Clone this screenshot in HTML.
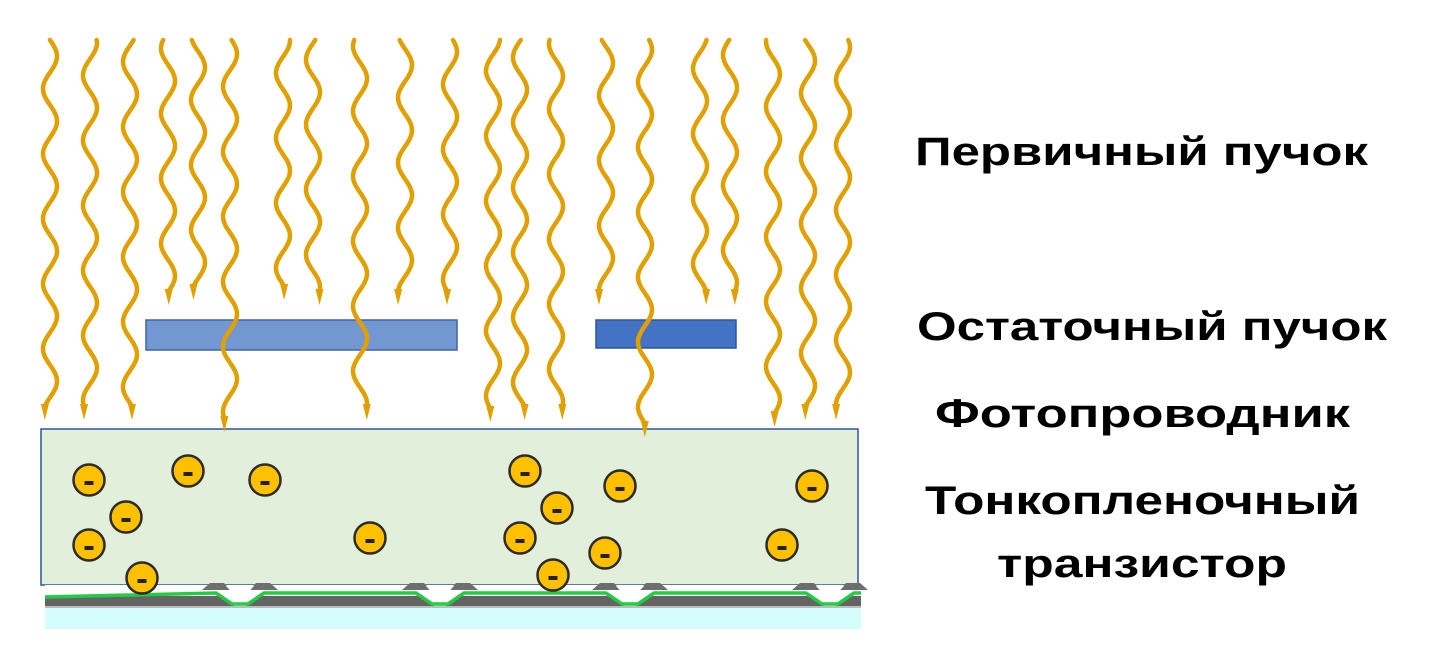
<!DOCTYPE html>
<html><head><meta charset="utf-8"><style>
html,body{margin:0;padding:0;background:#fff;width:1436px;height:658px;overflow:hidden}
svg{display:block}
text{font-family:"Liberation Sans","DejaVu Sans",sans-serif;font-weight:bold;font-size:40px;fill:#000}
</style></head><body>
<svg id="s" width="1436" height="658" viewBox="0 0 1436 658">
<rect x="146" y="320" width="311" height="30" fill="#7397d0" stroke="#3f64a8" stroke-width="1.5"/>
<rect x="596" y="320" width="140" height="28" fill="#4472c4" stroke="#2f5597" stroke-width="1.5"/>
<rect x="41" y="429" width="817" height="156" fill="#e2efda" stroke="#2f5597" stroke-width="1.5"/>
<rect x="45" y="608" width="816" height="21" fill="#d5fdfd"/>
<g id="tft"></g>
<g id="waves"></g>
<g id="el"></g>
<text x="915" y="165" textLength="453" lengthAdjust="spacingAndGlyphs">Первичный пучок</text>
<text x="917" y="340" textLength="470" lengthAdjust="spacingAndGlyphs">Остаточный пучок</text>
<text x="935" y="427" textLength="415" lengthAdjust="spacingAndGlyphs">Фотопроводник</text>
<text x="925" y="514" textLength="435" lengthAdjust="spacingAndGlyphs">Тонкопленочный</text>
<text x="997" y="577" textLength="290" lengthAdjust="spacingAndGlyphs">транзистор</text>
</svg>
<script>
var NS="http://www.w3.org/2000/svg";
function el(t,a,p){var e=document.createElementNS(NS,t);for(var k in a)e.setAttribute(k,a[k]);p.appendChild(e);return e;}
var W=document.getElementById("waves");
var waves=[[50,420],[90,420],[130,420],[168,305],[198,300],[230,432],[283,300],[313,305],[360,420],[405,305],[450,305],[493,422],[520,420],[556,420],[606,305],[645,437],[700,305],[730,305],[773,427],[808,420],[843,420]];
waves.forEach(function(w,i){
  var x0=w[0],end=w[1],d="",ph=i*1.3;
  var stop=end-14;
  for(var y=40;y<=stop;y+=2){
    var x=x0+7*Math.sin((y-40)/65*2*Math.PI+ph);
    d+=(y==40?"M":"L")+x.toFixed(1)+" "+y;
  }
  var xe=x0+7*Math.sin((stop-40)/65*2*Math.PI+ph);
  el("path",{d:d,fill:"none",stroke:"#e0a000","stroke-width":"4.5","stroke-linecap":"round"},W);
  el("polygon",{points:(xe-4)+","+(stop-2)+" "+(xe+4)+","+(stop-2)+" "+xe+","+end,fill:"#e0a000"},W);
});
var T=document.getElementById("tft");
var bumps=[240,440,630,830];
el("rect",{x:45,y:585,width:816,height:4,fill:"#fff"},T);
var g="M45 606 L45 596";
bumps.forEach(function(b){g+=" L"+(b-20)+" 596 L"+(b-6)+" 606 L"+(b+6)+" 606 L"+(b+20)+" 596";});
g+=" L861 596 L861 606 Z";
el("path",{d:g,fill:"#646464"},T);
bumps.forEach(function(b){
  el("path",{d:"M"+(b-38)+" 590 L"+(b-30)+" 583 L"+(b-16)+" 583 L"+(b-4)+" 596 L"+(b+4)+" 596 L"+(b+16)+" 583 L"+(b+30)+" 583 L"+(b+38)+" 590 Z",fill:"#6e6e6e"},T);
  el("path",{d:"M"+(b-14)+" 586 L"+(b-4)+" 597 L"+(b+4)+" 597 L"+(b+14)+" 586 Z",fill:"#fff"},T);
});
var d="M45 597";
bumps.forEach(function(b){d+=" L"+(b-24)+" 593 L"+(b-8)+" 604 L"+(b+8)+" 604 L"+(b+24)+" 593";});
d+=" L861 593";
el("path",{d:d,fill:"none",stroke:"#22cc44","stroke-width":"3.5"},T);
el("rect",{x:45,y:606,width:816,height:2,fill:"#bcbcbc"},T);
var E=document.getElementById("el");
[[89,480],[188,471],[265,480],[126,517],[89,545],[142,578],[370,538],[525,471],[557,508],[520,538],[553,575],[620,486],[605,553],[812,486],[782,545]].forEach(function(p){
  el("circle",{cx:p[0],cy:p[1],r:15.5,fill:"#ffc000",stroke:"#2b2b2b","stroke-width":"2.5"},E);
  el("rect",{x:p[0]-4.5,y:p[1]+1,width:9,height:4,fill:"#222"},E);
});
</script>
</body></html>
